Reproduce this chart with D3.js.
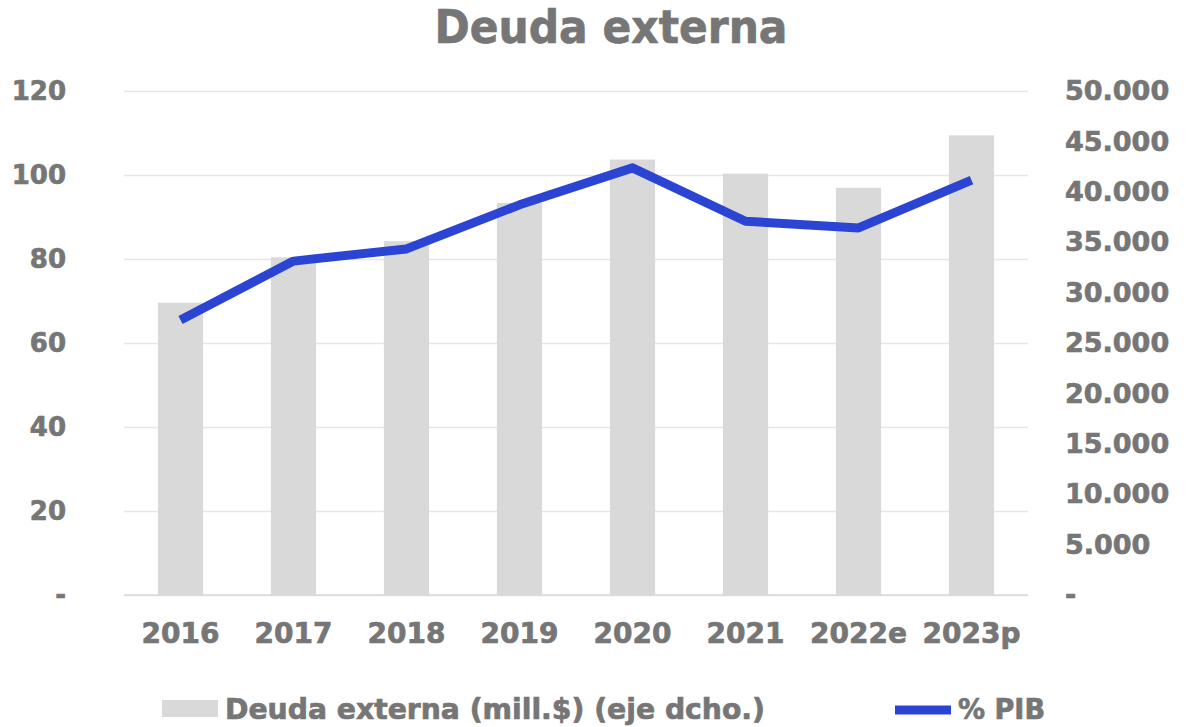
<!DOCTYPE html>
<html>
<head>
<meta charset="utf-8">
<script src="https://cdn.jsdelivr.net/npm/d3@7"></script>
<style>
  body { margin: 0; background: #fff; }
  text { font-family: "DejaVu Sans", Verdana, sans-serif; font-weight: bold; fill: #767676; stroke: #767676; stroke-width: 0.7px; }
</style>
</head>
<body>
<div id="chart"></div>
<script>
// data
var years = ['2016', '2017', '2018', '2019', '2020', '2021', '2022e', '2023p'];
var deuda = [29000, 33500, 35100, 38900, 43200, 41800, 40400, 45600];   // mill.$ (right axis)
var pctPib = [65.5, 79.5, 82.4, 92.9, 101.7, 89.0, 87.4, 98.8];          // % PIB (left axis)
var leftTicks = [0, 20, 40, 60, 80, 100, 120];
var rightTicks = [0, 5000, 10000, 15000, 20000, 25000, 30000, 35000, 40000, 45000, 50000];

var W = 1190, H = 727;
var margin = {top: 91, right: 162, bottom: 132, left: 124};
var width = W - margin.left - margin.right;
var height = H - margin.top - margin.bottom;

var svg = d3.select('#chart')
  .append('svg')
  .attr('width', W)
  .attr('height', H);

svg.append('text')
  .attr('x', 611)
  .attr('y', 43)
  .attr('text-anchor', 'middle')
  .attr('textLength', 353)
  .attr('lengthAdjust', 'spacingAndGlyphs')
  .style('font-size', '46px')
  .text('Deuda externa');

var g = svg.append('g')
  .attr('transform', 'translate(' + margin.left + ',' + margin.top + ')');

var x = d3.scaleBand()
  .domain(years)
  .range([0, width])
  .paddingInner(0.6)
  .paddingOuter(0.3);

var yL = d3.scaleLinear().domain([0, 120]).range([height, 0]);
var yR = d3.scaleLinear().domain([0, 50000]).range([height, 0]);

// gridlines
g.append('g')
  .attr('class', 'grid')
  .call(d3.axisLeft(yL).tickValues(leftTicks).tickSize(-width).tickFormat(''))
  .call(function(s){
    s.select('.domain').remove();
    s.selectAll('line').attr('stroke', '#e6e6e6').attr('stroke-width', 1.5);
  });

// left axis labels
g.append('g')
  .call(d3.axisLeft(yL).tickValues(leftTicks).tickSize(0).tickPadding(58)
    .tickFormat(function(d){ return d === 0 ? '-' : d; }))
  .call(function(s){
    s.select('.domain').remove();
    s.selectAll('text').style('font-size', '26px').attr('fill', null);
  });

// right axis labels
g.append('g')
  .attr('transform', 'translate(' + width + ',0)')
  .call(d3.axisRight(yR).tickValues(rightTicks).tickSize(0).tickPadding(37)
    .tickFormat(function(d){ return d === 0 ? '-' : d3.format(',')(d).replace(/,/g, '.'); }))
  .call(function(s){
    s.select('.domain').remove();
    s.selectAll('text').style('font-size', '27px').attr('fill', null);
  });

// bars
g.selectAll('.bar')
  .data(years)
  .enter()
  .append('rect')
  .attr('class', 'bar')
  .attr('x', function(d){ return x(d); })
  .attr('width', x.bandwidth())
  .attr('y', function(d, i){ return yR(deuda[i]); })
  .attr('height', function(d, i){ return height - yR(deuda[i]); })
  .attr('fill', '#d9d9d9');

// baseline
g.append('line')
  .attr('x1', 0).attr('x2', width)
  .attr('y1', height).attr('y2', height)
  .attr('stroke', '#d9d9d9').attr('stroke-width', 1.5);

// x axis labels
g.append('g')
  .attr('transform', 'translate(0,' + height + ')')
  .call(d3.axisBottom(x).tickSize(0).tickPadding(28))
  .call(function(s){
    s.select('.domain').remove();
    s.selectAll('text').style('font-size', '28px').attr('fill', null);
  });

// % PIB line
var line = d3.line()
  .x(function(d, i){ return x(years[i]) + x.bandwidth() / 2; })
  .y(function(d){ return yL(d); });

g.append('path')
  .datum(pctPib)
  .attr('d', line)
  .attr('fill', 'none')
  .attr('stroke', '#2c44d3')
  .attr('stroke-width', 9)
  .attr('stroke-linejoin', 'round');

// legend
var leg = svg.append('g');
leg.append('rect')
  .attr('x', 162).attr('y', 700)
  .attr('width', 56).attr('height', 17)
  .attr('fill', '#d9d9d9');
leg.append('text')
  .attr('x', 225).attr('y', 719)
  .attr('textLength', 540)
  .attr('lengthAdjust', 'spacingAndGlyphs')
  .style('font-size', '28px')
  .text('Deuda externa (mill.$) (eje dcho.)');
leg.append('line')
  .attr('x1', 895).attr('x2', 951)
  .attr('y1', 710).attr('y2', 710)
  .attr('stroke', '#2c44d3').attr('stroke-width', 9);
leg.append('text')
  .attr('x', 958).attr('y', 719)
  .attr('textLength', 87)
  .attr('lengthAdjust', 'spacingAndGlyphs')
  .style('font-size', '28px')
  .text('% PIB');
</script>
</body>
</html>
